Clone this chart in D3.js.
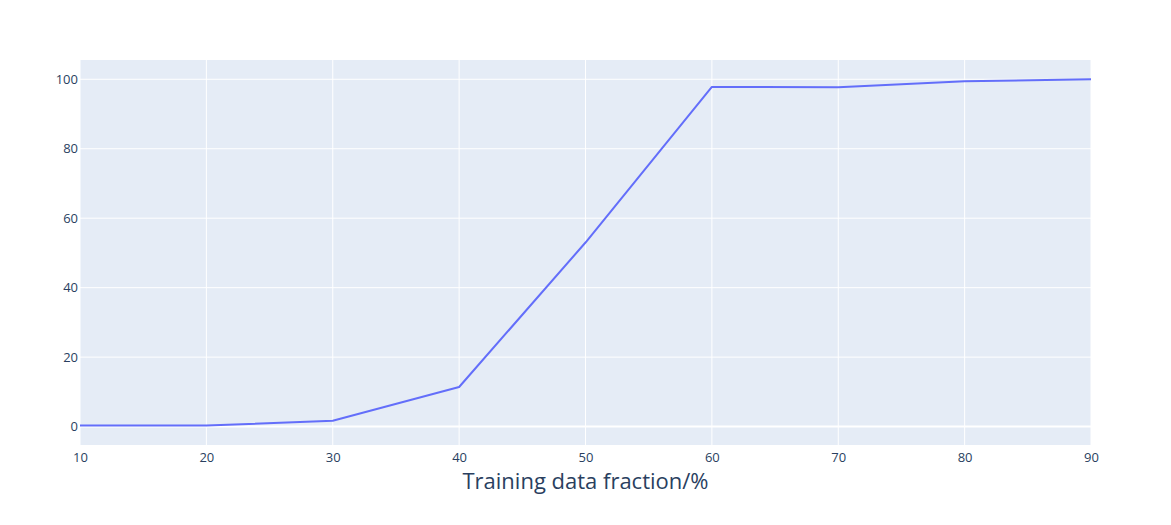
<!DOCTYPE html>
<html>
<head>
<meta charset="utf-8">
<script src="https://cdn.jsdelivr.net/npm/d3@7"></script>
<style>
  body { margin: 0; background: #fff; }
  text { font-family: "Open Sans", verdana, arial, sans-serif; fill: #2a3f5f; }
</style>
</head>
<body>
<script>
// training fraction (%) vs value
var fractions = [10, 20, 30, 40, 50, 60, 70, 80, 90];
var values = [0.3, 0.3, 1.7, 11.4, 53.0, 97.8, 97.7, 99.4, 100.0];
var xTicks = [10, 20, 30, 40, 50, 60, 70, 80, 90];
var yTicks = [0, 20, 40, 60, 80, 100];

var width = 1171, height = 525;
var margin = { left: 80, right: 80, top: 60, bottom: 80 };

var svg = d3.select("body").append("svg")
    .attr("width", width)
    .attr("height", height);

var x = d3.scaleLinear().domain([10, 90]).range([margin.left, width - margin.right]);
var y = d3.scaleLinear().domain([-5.3, 105.55]).range([height - margin.bottom, margin.top]);

// plot background
svg.append("rect")
    .attr("x", margin.left)
    .attr("y", margin.top)
    .attr("width", width - margin.left - margin.right)
    .attr("height", height - margin.top - margin.bottom)
    .attr("fill", "#e5ecf6");

// grid lines
svg.append("g").selectAll("line")
    .data(xTicks).enter()
    .append("line")
    .attr("x1", function(d) { return x(d) })
    .attr("x2", function(d) { return x(d) })
    .attr("y1", margin.top)
    .attr("y2", height - margin.bottom)
    .attr("stroke", "#fff")
    .attr("stroke-width", 1);

svg.append("g").selectAll("line")
    .data(yTicks).enter()
    .append("line")
    .attr("x1", margin.left)
    .attr("x2", width - margin.right)
    .attr("y1", function(d) { return y(d) })
    .attr("y2", function(d) { return y(d) })
    .attr("stroke", "#fff")
    .attr("stroke-width", function(d) { return d === 0 ? 2 : 1 });

// axes (labels only)
var xAxis = svg.append("g")
    .attr("transform", "translate(0," + (height - margin.bottom) + ")")
    .call(d3.axisBottom(x).tickValues(xTicks).tickSize(0).tickPadding(8));
var yAxis = svg.append("g")
    .attr("transform", "translate(" + margin.left + ",0)")
    .call(d3.axisLeft(y).tickValues(yTicks).tickSize(0).tickPadding(2));
[xAxis, yAxis].forEach(function(a) {
    a.select(".domain").remove();
    a.selectAll("text")
        .attr("font-size", 13)
        .attr("font-family", null)
        .style("fill", "#2a3f5f");
});

// line
var line = d3.line()
    .x(function(d, i) { return x(fractions[i]) })
    .y(function(d) { return y(d) });

svg.append("path")
    .datum(values)
    .attr("d", line)
    .attr("fill", "none")
    .attr("stroke", "#636efa")
    .attr("stroke-width", 2)
    .attr("stroke-linejoin", "round");

// axis title
svg.append("text")
    .attr("x", (margin.left + width - margin.right) / 2)
    .attr("y", 489)
    .attr("text-anchor", "middle")
    .attr("font-size", 22)
    .text("Training data fraction/%");
</script>
</body>
</html>
